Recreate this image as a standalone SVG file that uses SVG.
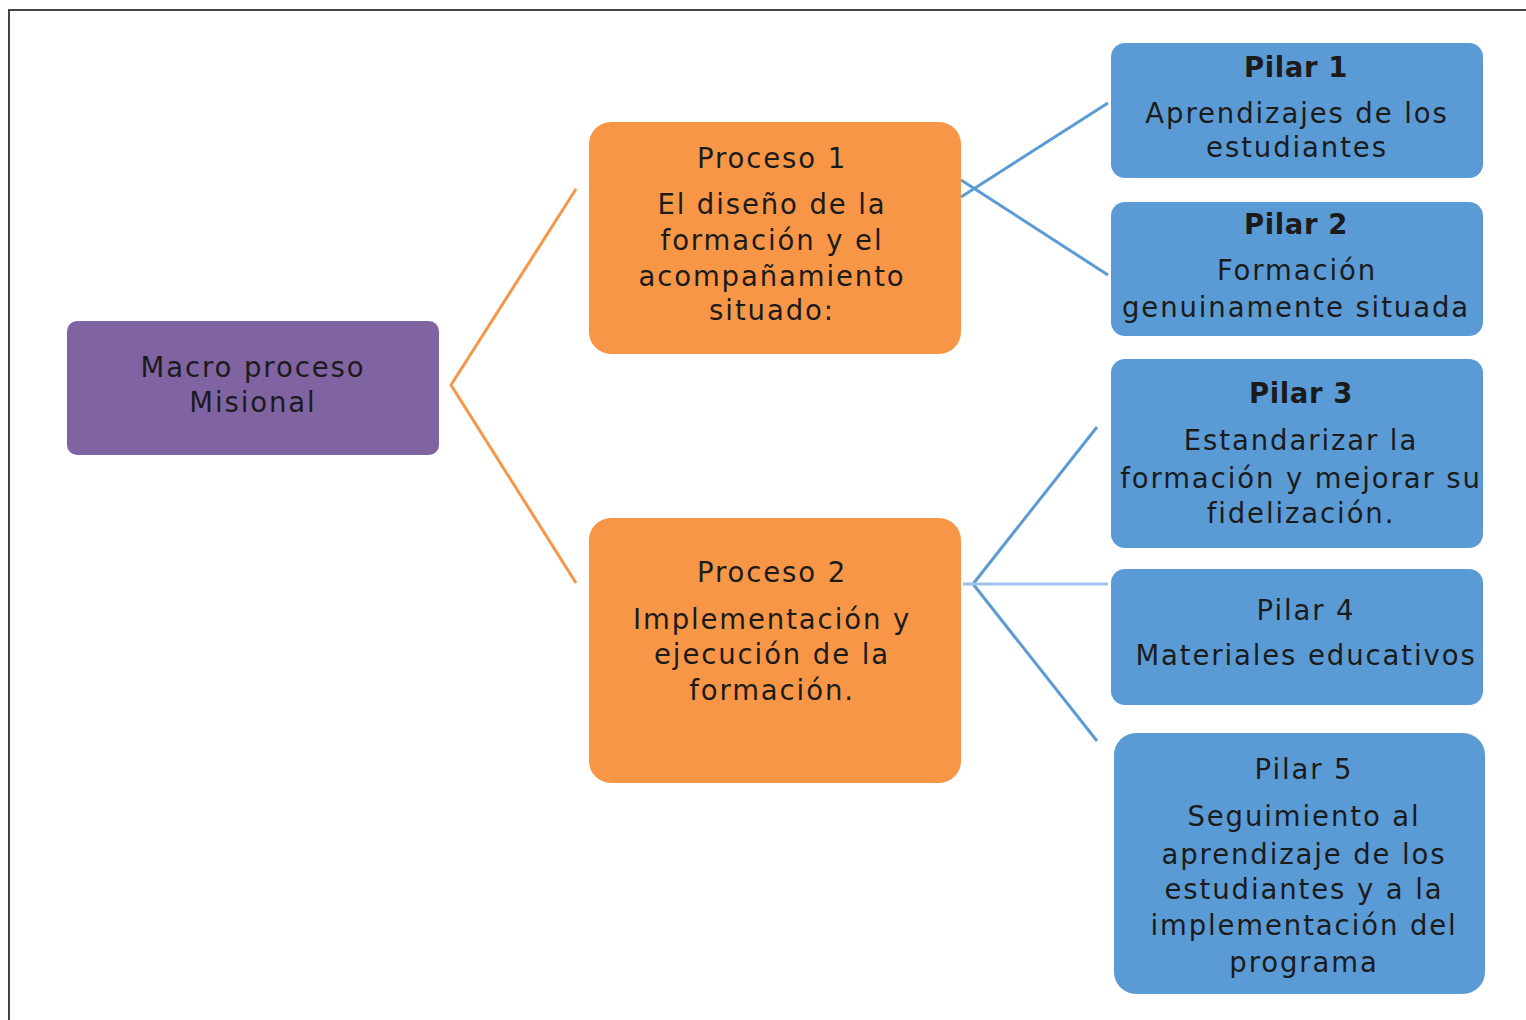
<svg xmlns="http://www.w3.org/2000/svg" width="1526" height="1020" viewBox="0 0 1526 1020">
<style>
.t{font-family:"DejaVu Sans","Open Sans",sans-serif;font-size:27.5px;letter-spacing:1.9px;fill:#1b1b1b;text-anchor:middle}
.b{font-weight:bold;letter-spacing:0.6px}
.purple{fill:#8064A2}
.orange{fill:#F79646}
.blue{fill:#5B9BD5}
.co{stroke:#F79646;stroke-width:3;fill:none}
.cb{stroke:#5B9BD5;stroke-width:3;fill:none}
</style>
<rect width="1526" height="1020" fill="#fff"/>
<path d="M9,1020 V10 H1526" fill="none" stroke="#444" stroke-width="2"/>
<g id="connectors">
<polyline class="co" points="576,189 451,385 576,583"/>
<line class="cb" x1="961" y1="197" x2="1108" y2="103"/>
<line class="cb" x1="961" y1="180" x2="1108" y2="275"/>
<polyline class="cb" points="1097,427 973,584 1097,741"/>
<line x1="963" y1="584" x2="1108" y2="584" stroke="#9DC3E6" stroke-width="3"/>
</g>
<g id="macro">
<rect class="purple" x="67" y="321" width="372" height="134" rx="10"/>
<text class="t" x="253" y="377">Macro proceso</text>
<text class="t" x="253" y="412">Misional</text>
</g>
<g id="proceso1">
<rect class="orange" x="589" y="122" width="372" height="232" rx="22"/>
<text class="t" x="772" y="168">Proceso 1</text>
<text class="t" x="772" y="214">El diseño de la</text>
<text class="t" x="772" y="250">formación y el</text>
<text class="t" x="772" y="286">acompañamiento</text>
<text class="t" x="772" y="320">situado:</text>
</g>
<g id="proceso2">
<rect class="orange" x="589" y="518" width="372" height="265" rx="22"/>
<text class="t" x="772" y="582">Proceso 2</text>
<text class="t" x="772" y="629">Implementación y</text>
<text class="t" x="772" y="664">ejecución de la</text>
<text class="t" x="772" y="700">formación.</text>
</g>
<g id="pilar1">
<rect class="blue" x="1111" y="43" width="372" height="135" rx="14"/>
<text class="t b" x="1296" y="77">Pilar 1</text>
<text class="t" x="1297" y="123">Aprendizajes de los</text>
<text class="t" x="1297" y="157">estudiantes</text>
</g>
<g id="pilar2">
<rect class="blue" x="1111" y="202" width="372" height="134" rx="14"/>
<text class="t b" x="1296" y="234">Pilar 2</text>
<text class="t" x="1297" y="280">Formación</text>
<text class="t" x="1296" y="317">genuinamente situada</text>
</g>
<g id="pilar3">
<rect class="blue" x="1111" y="359" width="372" height="189" rx="14"/>
<text class="t b" x="1301" y="403">Pilar 3</text>
<text class="t" x="1301" y="450">Estandarizar la</text>
<text class="t" x="1301" y="488">formación y mejorar su</text>
<text class="t" x="1301" y="523">fidelización.</text>
</g>
<g id="pilar4">
<rect class="blue" x="1111" y="569" width="372" height="136" rx="14"/>
<text class="t" x="1306" y="620">Pilar 4</text>
<text class="t" x="1306" y="665">Materiales educativos</text>
</g>
<g id="pilar5">
<rect class="blue" x="1114" y="733" width="371" height="261" rx="22"/>
<text class="t" x="1304" y="779">Pilar 5</text>
<text class="t" x="1304" y="826">Seguimiento al</text>
<text class="t" x="1304" y="864">aprendizaje de los</text>
<text class="t" x="1304" y="899">estudiantes y a la</text>
<text class="t" x="1304" y="935">implementación del</text>
<text class="t" x="1304" y="972">programa</text>
</g>
</svg>
